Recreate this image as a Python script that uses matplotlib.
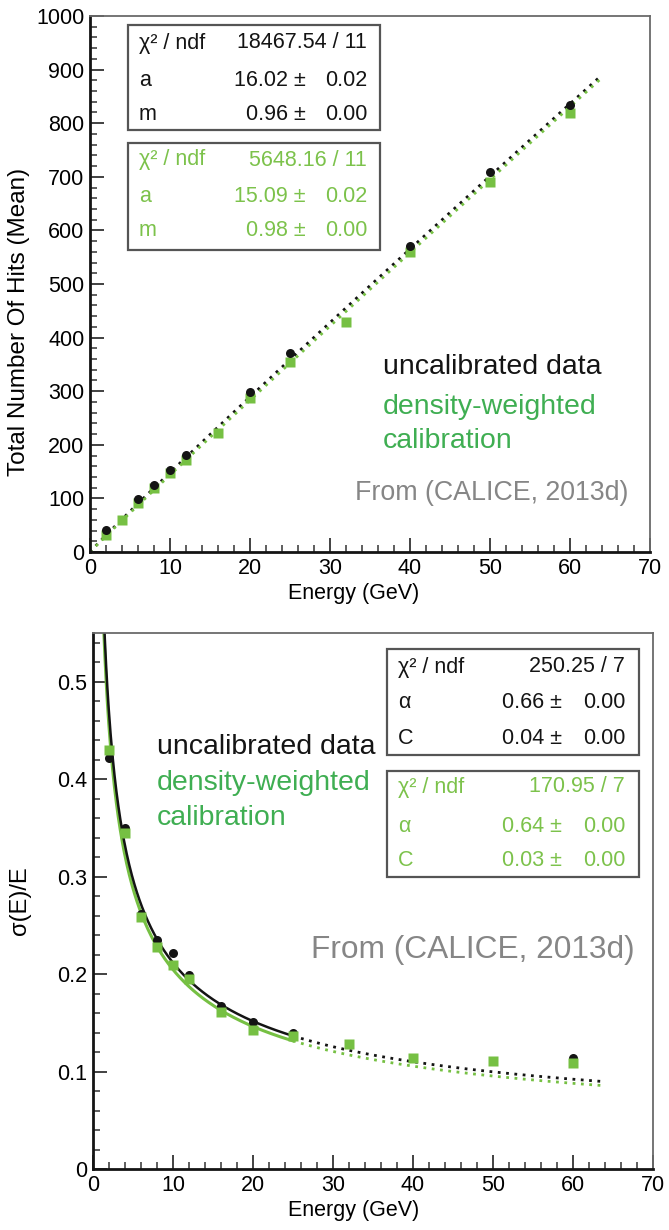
import numpy as np
import matplotlib
matplotlib.use("Agg")
import matplotlib.pyplot as plt
from matplotlib.patches import Rectangle
from matplotlib.ticker import MultipleLocator

plt.rcParams['font.family'] = ['Liberation Sans', 'DejaVu Sans']

# ---------------- data: top panel (mean number of hits) ----------------
energy_uncal_hits = [2, 6, 8, 10, 12, 20, 25, 40, 50, 60]
hits_uncal = [41, 99, 125, 153, 181, 298, 371, 570, 709, 834]
energy_cal_hits = [2, 4, 6, 8, 10, 12, 16, 20, 25, 32, 40, 50, 60]
hits_cal = [32, 60, 91, 119, 147, 172, 222, 288, 355, 430, 560, 690, 819]

# power-law fits a * E^m (curve parameters)
fit_hits_uncal = (16.02, 0.966)
fit_hits_cal = (15.09, 0.979)

# ---------------- data: bottom panel (resolution) ----------------
energy_uncal_res = [2, 4, 6, 8, 10, 12, 16, 20, 25, 60]
res_uncal = [0.422, 0.350, 0.262, 0.235, 0.222, 0.199, 0.167, 0.151, 0.140, 0.114]
energy_cal_res = [2, 4, 6, 8, 10, 12, 16, 20, 25, 32, 40, 50, 60]
res_cal = [0.430, 0.345, 0.259, 0.228, 0.209, 0.195, 0.161, 0.143, 0.136, 0.128, 0.114, 0.111, 0.109]

# sigma/E = alpha/sqrt(E) (+) C
fit_res_uncal = (0.66, 0.035)
fit_res_cal = (0.64, 0.030)

stats_hits_uncal = [("χ² / ndf", "18467.54 / 11", None), ("a", "16.02 ±", "0.02"), ("m", "0.96 ±", "0.00")]
stats_hits_cal = [("χ² / ndf", "5648.16 / 11", None), ("a", "15.09 ±", "0.02"), ("m", "0.98 ±", "0.00")]
stats_res_uncal = [("χ² / ndf", "250.25 / 7", None), ("α", "0.66 ±", "0.00"), ("C", "0.04 ±", "0.00")]
stats_res_cal = [("χ² / ndf", "170.95 / 7", None), ("α", "0.64 ±", "0.00"), ("C", "0.03 ±", "0.00")]

hits_yticks = [0, 100, 200, 300, 400, 500, 600, 700, 800, 900, 1000]
res_yticks = [0, 0.1, 0.2, 0.3, 0.4, 0.5]
res_yticklabels = ["0", "0.1", "0.2", "0.3", "0.4", "0.5"]
xticks = [0, 10, 20, 30, 40, 50, 60, 70]

BLACK = '#141414'
GREEN_PT = '#76c043'
GREEN_STAT = '#7cc24b'
GREEN_LEG = '#3fae52'
GRAY_TXT = '#868686'
FRAME = '#6a6a6a'

W, H = 669, 1230
fig = plt.figure(figsize=(W / 100, H / 100), dpi=100)


def fx(x):
    return x / W


def fy(y):
    return 1 - y / H


def style_axes(ax):
    for s in ['top', 'right']:
        ax.spines[s].set_color(FRAME)
        ax.spines[s].set_linewidth(1.3)
    for s in ['left', 'bottom']:
        ax.spines[s].set_color(BLACK)
        ax.spines[s].set_linewidth(2.0)
    ax.tick_params(which='both', direction='in', top=False, right=False, color='#333333')
    ax.tick_params(which='major', length=10, width=1.3, labelsize=15.5, pad=4)
    ax.tick_params(which='minor', length=5, width=1.1)
    ax.set_xlim(0, 70)
    ax.set_xticks(xticks)
    ax.xaxis.set_minor_locator(MultipleLocator(2))


# ---------------- top panel ----------------
ax1 = fig.add_axes([fx(90), fy(552), 560 / W, 536 / H])
style_axes(ax1)
ax1.set_ylim(0, 1000)
ax1.set_yticks(hits_yticks)
ax1.yaxis.set_minor_locator(MultipleLocator(20))

e_fit = np.linspace(0, 64.0, 300)
ax1.plot(e_fit, fit_hits_uncal[0] * e_fit ** fit_hits_uncal[1], color=BLACK, lw=2.0, ls=(0, (1, 2)), zorder=2)
ax1.plot(e_fit, fit_hits_cal[0] * e_fit ** fit_hits_cal[1], color=GREEN_PT, lw=2.0, ls=(0, (1, 2)), zorder=2)
ax1.plot(energy_cal_hits, hits_cal, 's', color=GREEN_PT, ms=7.5, mec='none', zorder=3)
ax1.plot(energy_uncal_hits, hits_uncal, 'o', color=BLACK, ms=6.5, mec='none', zorder=4)

ax1.set_xlabel("Energy (GeV)", fontsize=15.5)
ax1.xaxis.set_label_coords(0.47, -0.058)
ax1.set_ylabel("Total Number Of Hits (Mean)", fontsize=17.5)
ax1.yaxis.set_label_coords(-0.108, 0.43)

# ---------------- bottom panel ----------------
ax2 = fig.add_axes([fx(93), fy(1169), 560 / W, 536 / H])
style_axes(ax2)
ax2.set_ylim(0, 0.55)
ax2.set_yticks(res_yticks)
ax2.set_yticklabels(res_yticklabels)
ax2.yaxis.set_minor_locator(MultipleLocator(0.02))


def res(e, p):
    return np.sqrt(p[0] ** 2 / e + p[1] ** 2)


e_solid = np.linspace(1.0, 25, 300)
e_dot = np.linspace(25, 64.0, 200)
ax2.plot(e_solid, res(e_solid, fit_res_cal), color=GREEN_PT, lw=2.2, zorder=2)
ax2.plot(e_dot, res(e_dot, fit_res_cal), color=GREEN_PT, lw=2.0, ls=(0, (1, 2)), zorder=2)
ax2.plot(e_solid, res(e_solid, fit_res_uncal), color=BLACK, lw=1.8, zorder=2)
ax2.plot(e_dot, res(e_dot, fit_res_uncal), color=BLACK, lw=2.0, ls=(0, (1, 2)), zorder=2)
ax2.plot(energy_uncal_res, res_uncal, 'o', color=BLACK, ms=6.5, mec='none', zorder=3)
ax2.plot(energy_cal_res, res_cal, 's', color=GREEN_PT, ms=7.5, mec='none', zorder=4)

ax2.set_xlabel("Energy (GeV)", fontsize=15.5)
ax2.xaxis.set_label_coords(0.465, -0.058)
ax2.set_ylabel("σ(E)/E", fontsize=17)
ax2.yaxis.set_label_coords(-0.11, 0.5)


# ---------------- stats boxes ----------------
def stats_box(x0, x1, y0, y1, rows, row_y, xl, xpm, xr, color, fs=15.5):
    fig.add_artist(Rectangle((fx(x0), fy(y1)), fx(x1) - fx(x0), fy(y0) - fy(y1),
                             transform=fig.transFigure, facecolor='white',
                             edgecolor='#555555', lw=1.6, zorder=5))
    for (lab, v1, v2), yy in zip(rows, row_y):
        fig.text(fx(xl), fy(yy), lab, color=color, fontsize=fs, va='center', ha='left', zorder=6)
        if v2 is None:
            fig.text(fx(xr), fy(yy), v1, color=color, fontsize=fs, va='center', ha='right', zorder=6)
        else:
            fig.text(fx(xpm), fy(yy), v1, color=color, fontsize=fs, va='center', ha='right', zorder=6)
            fig.text(fx(xr), fy(yy), v2, color=color, fontsize=fs, va='center', ha='right', zorder=6)


stats_box(128, 380, 25, 130, stats_hits_uncal, [43, 80, 114], 139, 306, 367, BLACK)
stats_box(128, 380, 143, 250, stats_hits_cal, [160, 197, 231], 139, 306, 367, GREEN_STAT)
stats_box(387, 639, 649, 755, stats_res_uncal, [667, 703, 738], 398, 562, 625, BLACK)
stats_box(387, 639, 771, 877, stats_res_cal, [787, 826, 860], 398, 562, 625, GREEN_STAT)

# ---------------- legends / annotations ----------------
fig.text(fx(383), fy(367), "uncalibrated data", color=BLACK, fontsize=20.5, va='center', ha='left')
fig.text(fx(383), fy(407), "density-weighted", color=GREEN_LEG, fontsize=20.5, va='center', ha='left')
fig.text(fx(383), fy(441), "calibration", color=GREEN_LEG, fontsize=20.5, va='center', ha='left')
fig.text(fx(628), fy(493), "From (CALICE, 2013d)", color=GRAY_TXT, fontsize=19.3, va='center', ha='right')

fig.text(fx(157), fy(747), "uncalibrated data", color=BLACK, fontsize=20.5, va='center', ha='left')
fig.text(fx(157), fy(783), "density-weighted", color=GREEN_LEG, fontsize=20.5, va='center', ha='left')
fig.text(fx(157), fy(818), "calibration", color=GREEN_LEG, fontsize=20.5, va='center', ha='left')
fig.text(fx(635), fy(950), "From (CALICE, 2013d)", color=GRAY_TXT, fontsize=22.8, va='center', ha='right')

fig.savefig("out.png", dpi=100)
